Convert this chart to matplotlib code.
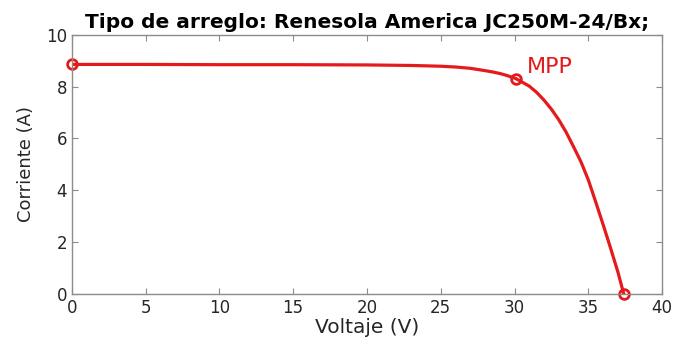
import matplotlib
matplotlib.use("Agg")
import matplotlib.pyplot as plt

# I-V curve of the module
voltage = [0, 5, 10, 15, 20, 23, 25, 26, 27, 28, 28.5, 29, 29.5, 30.1,
           31, 31.5, 32, 32.5, 33, 33.5, 34, 34.5, 35, 35.5, 36, 36.5, 37, 37.4]
current = [8.86, 8.86, 8.85, 8.85, 8.84, 8.82, 8.79, 8.76, 8.71, 8.62, 8.57, 8.51, 8.43, 8.31,
           8.02, 7.78, 7.48, 7.13, 6.72, 6.24, 5.68, 5.10, 4.40, 3.55, 2.68, 1.78, 0.85, 0.0]

# highlighted points: short circuit, maximum power point, open circuit
key_v = [0, 30.1, 37.4]
key_i = [8.86, 8.31, 0.0]

xticks = [0, 5, 10, 15, 20, 25, 30, 35, 40]
yticks = [0, 2, 4, 6, 8, 10]

plt.rcParams['font.family'] = ['DejaVu Sans']

fig = plt.figure(figsize=(6.84, 3.49), dpi=100)
ax = fig.add_axes([0.105, 0.158, 0.863, 0.742])

red = '#e41a1c'
ax.plot(voltage, current, color=red, lw=2.3, solid_joinstyle='round')
ax.plot(key_v, key_i, 'o', color=red, mfc='none', ms=7, mew=2.0, clip_on=False)
ax.text(30.85, 8.54, 'MPP', color=red, fontsize=16, va='baseline', ha='left')

ax.set_xlim(0, 40)
ax.set_ylim(0, 10)
ax.set_xticks(xticks)
ax.set_yticks(yticks)

axis_color = '#8c8c8c'
for s in ax.spines.values():
    s.set_color(axis_color)
    s.set_linewidth(1.0)
ax.tick_params(direction='in', top=True, right=True, length=4, color=axis_color,
               labelcolor='#262626', labelsize=12)

ax.set_xlabel('Voltaje (V)', fontsize=14.5, color='#262626', labelpad=1)
ax.set_ylabel('Corriente (A)', fontsize=13, color='#262626', labelpad=8)
ax.set_title('Tipo de arreglo: Renesola America JC250M-24/Bx;', fontsize=14.5,
             fontweight='bold', color='black', pad=5)

fig.savefig('out.png', dpi=100)
